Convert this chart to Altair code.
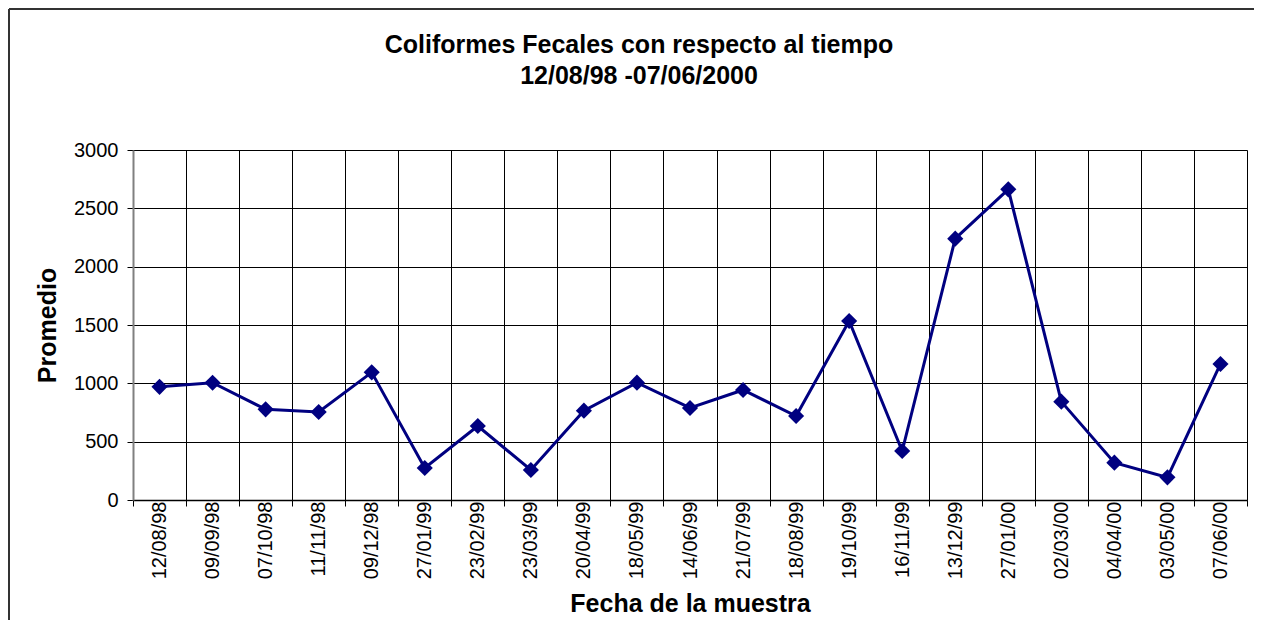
import altair as alt
import pandas as pd

dates = ["12/08/98", "09/09/98", "07/10/98", "11/11/98", "09/12/98", "27/01/99",
         "23/02/99", "23/03/99", "20/04/99", "18/05/99", "14/06/99", "21/07/99",
         "18/08/99", "19/10/99", "16/11/99", "13/12/99", "27/01/00", "02/03/00",
         "04/04/00", "03/05/00", "07/06/00"]
promedio = [970, 1005, 777, 754, 1094, 274, 634, 257, 766, 1006, 789, 943,
            720, 1534, 420, 2240, 2663, 843, 320, 194, 1166]
y_ticks = [0, 500, 1000, 1500, 2000, 2500, 3000]
title_lines = ["Coliformes Fecales con respecto al tiempo", "12/08/98 -07/06/2000"]

df = pd.DataFrame({"fecha": dates, "promedio": promedio})

FONT = "Liberation Sans"
NAVY = "#000080"

x_enc = alt.X(
    "fecha:O",
    sort=dates,
    scale=alt.Scale(type="band", paddingInner=0, paddingOuter=0),
    axis=alt.Axis(
        title="Fecha de la muestra",
        titleFontSize=25, titleFont=FONT, titleFontWeight="bold", titleColor="black",
        titlePadding=13,
        labelAngle=270, labelAlign="right", labelBaseline="middle",
        labelFont=FONT, labelFontSize=20, labelColor="black", labelPadding=-5,
        tickBand="extent", tickSize=6, tickColor="black", tickWidth=1,
        grid=True, gridColor="black", gridWidth=1,
        domainColor="black", domainWidth=1.5,
        labelOverlap=False,
    ),
)
y_enc = alt.Y(
    "promedio:Q",
    scale=alt.Scale(domain=[0, 3000], nice=False),
    axis=alt.Axis(
        title="Promedio", values=y_ticks, format="d",
        titleFontSize=25, titleFont=FONT, titleFontWeight="bold", titleColor="black",
        titlePadding=13,
        labelFont=FONT, labelFontSize=20, labelColor="black", labelPadding=9,
        tickSize=6, tickColor="black", tickWidth=1,
        grid=True, gridColor="black", gridWidth=1,
        domainColor="#808080", domainWidth=2,
    ),
)

line = alt.Chart(df).mark_line(color=NAVY, strokeWidth=3).encode(x=x_enc, y=y_enc)
points = alt.Chart(df).mark_point(
    shape="diamond", filled=True, color=NAVY, size=260, opacity=1
).encode(x=alt.X("fecha:O", sort=dates), y="promedio:Q")

one = pd.DataFrame({"k": [0]})
frame_left = alt.Chart(one).mark_rule(color="#333333", strokeWidth=2).encode(
    x=alt.value(-124), y=alt.value(-141), y2=alt.value(350 + 120),
)
frame_top = alt.Chart(one).mark_rule(color="#333333", strokeWidth=2).encode(
    y=alt.value(-141), x=alt.value(-124), x2=alt.value(1114 + 7),
)

chart = alt.layer(frame_left, frame_top, line, points).properties(
    width=1114,
    height=350,
    title=alt.TitleParams(
        text=title_lines, font=FONT, fontSize=25, fontWeight="bold", color="black",
        anchor="middle", dx=-51, offset=-81, lineHeight=31,
    ),
    autosize=alt.AutoSizeParams(type="none"),
    padding={"left": 125, "top": 142, "right": 7, "bottom": 120},
).configure_view(
    stroke="#808080", strokeWidth=2
).configure(background="white")

chart.save("out.html", embed_options={"renderer": "svg", "actions": False})
